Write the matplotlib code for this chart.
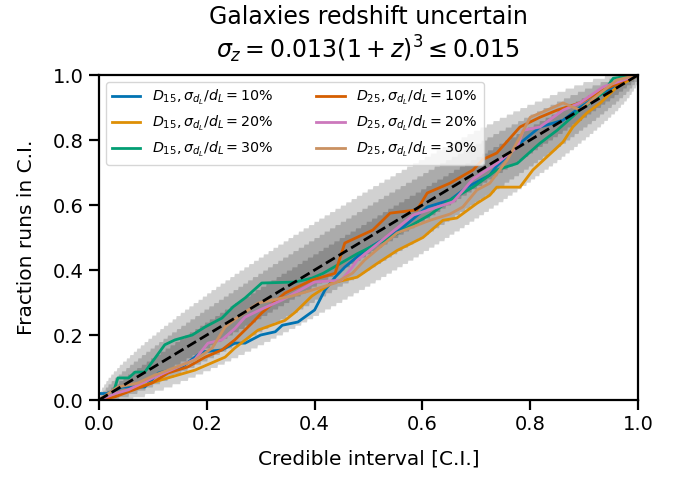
import math
import numpy as np
import matplotlib
matplotlib.use("Agg")
import matplotlib.pyplot as plt

# ---------------- data ----------------
n_runs = 100
conf_levels = [0.68, 0.95, 0.997]

labels = [r"$D_{15}, \sigma_{d_L}/d_L = 10\%$",
          r"$D_{15}, \sigma_{d_L}/d_L = 20\%$",
          r"$D_{15}, \sigma_{d_L}/d_L = 30\%$",
          r"$D_{25}, \sigma_{d_L}/d_L = 10\%$",
          r"$D_{25}, \sigma_{d_L}/d_L = 20\%$",
          r"$D_{25}, \sigma_{d_L}/d_L = 30\%$"]
colors = ["#0173B2", "#DE8F05", "#029E73", "#D55E00", "#CC78BC", "#CA9161"]

d15_10_x = [0, 0.015, 0.043, 0.085, 0.11, 0.154, 0.191, 0.228, 0.252, 0.271, 0.30, 0.327, 0.34, 0.369, 0.40, 0.419,
            0.438, 0.456, 0.493, 0.516, 0.558, 0.609, 0.651, 0.683, 0.725, 0.738, 0.781, 0.818, 0.861, 0.892, 0.935, 0.97, 1.0]
d15_10_y = [0.02, 0.02, 0.04, 0.04, 0.083, 0.102, 0.148, 0.154, 0.175, 0.175, 0.20, 0.21, 0.23, 0.24, 0.277, 0.338,
            0.378, 0.409, 0.46, 0.483, 0.523, 0.594, 0.615, 0.655, 0.692, 0.72, 0.79, 0.84, 0.861, 0.90, 0.945, 0.98, 1.0]

d15_20_x = [0, 0.01, 0.072, 0.128, 0.178, 0.234, 0.252, 0.295, 0.345, 0.364, 0.395, 0.432, 0.479, 0.516, 0.553, 0.601,
            0.638, 0.664, 0.701, 0.725, 0.738, 0.781, 0.805, 0.831, 0.861, 0.879, 0.905, 0.93, 0.961, 1.0]
d15_20_y = [0.0, 0.01, 0.04, 0.068, 0.092, 0.132, 0.16, 0.215, 0.245, 0.27, 0.32, 0.36, 0.378, 0.42, 0.46, 0.50,
            0.553, 0.56, 0.605, 0.63, 0.655, 0.655, 0.708, 0.748, 0.794, 0.84, 0.883, 0.914, 0.963, 1.0]

d15_30_x = [0, 0.026, 0.035, 0.055, 0.067, 0.085, 0.122, 0.141, 0.173, 0.197, 0.228, 0.249, 0.271, 0.302, 0.364, 0.395,
            0.416, 0.479, 0.54, 0.614, 0.651, 0.694, 0.738, 0.776, 0.818, 0.85, 0.892, 0.935, 0.954, 1.0]
d15_30_y = [0.0, 0.02, 0.068, 0.068, 0.086, 0.086, 0.17, 0.185, 0.20, 0.225, 0.252, 0.287, 0.314, 0.36, 0.363, 0.375,
            0.39, 0.45, 0.50, 0.57, 0.615, 0.655, 0.708, 0.728, 0.79, 0.83, 0.892, 0.945, 0.99, 1.0]

d25_10_x = [0, 0.03, 0.054, 0.098, 0.128, 0.165, 0.197, 0.228, 0.252, 0.284, 0.302, 0.345, 0.395, 0.438, 0.456, 0.508,
            0.54, 0.59, 0.609, 0.651, 0.694, 0.712, 0.738, 0.781, 0.818, 0.85, 0.892, 0.935, 1.0]
d25_10_y = [0.0, 0.01, 0.025, 0.052, 0.083, 0.102, 0.132, 0.154, 0.185, 0.237, 0.268, 0.329, 0.369, 0.39, 0.483, 0.523,
            0.575, 0.585, 0.637, 0.667, 0.708, 0.74, 0.76, 0.84, 0.87, 0.892, 0.914, 0.954, 1.0]

d25_20_x = [0, 0.03, 0.054, 0.104, 0.147, 0.178, 0.202, 0.228, 0.252, 0.271, 0.302, 0.34, 0.364, 0.40, 0.45, 0.47,
            0.479, 0.583, 0.657, 0.694, 0.738, 0.776, 0.787, 0.818, 0.861, 0.892, 0.935, 1.0]
d25_20_y = [0.0, 0.02, 0.031, 0.071, 0.102, 0.125, 0.175, 0.185, 0.22, 0.255, 0.28, 0.308, 0.33, 0.363, 0.369, 0.409,
            0.43, 0.569, 0.61, 0.68, 0.728, 0.778, 0.83, 0.84, 0.892, 0.914, 0.963, 1.0]

d25_30_x = [0, 0.035, 0.072, 0.104, 0.141, 0.178, 0.21, 0.234, 0.252, 0.295, 0.358, 0.395, 0.438, 0.47, 0.493, 0.553,
            0.614, 0.651, 0.675, 0.701, 0.725, 0.757, 0.781, 0.80, 0.831, 0.861, 0.892, 0.923, 0.961, 1.0]
d25_30_y = [0.0, 0.04, 0.052, 0.077, 0.10, 0.123, 0.16, 0.225, 0.248, 0.298, 0.32, 0.338, 0.36, 0.39, 0.431, 0.514,
            0.553, 0.572, 0.594, 0.646, 0.667, 0.738, 0.809, 0.87, 0.892, 0.914, 0.892, 0.935, 0.985, 1.0]

series_x = [d15_10_x, d15_20_x, d15_30_x, d25_10_x, d25_20_x, d25_30_x]
series_y = [d15_10_y, d15_20_y, d15_30_y, d25_10_y, d25_20_y, d25_30_y]


# ---------------- binomial confidence bands ----------------
def binom_ppf(q, n, p):
    k = np.arange(n + 1)
    logc = np.array([math.lgamma(n + 1) - math.lgamma(i + 1) - math.lgamma(n - i + 1) for i in k])
    out = np.zeros_like(p)
    for j, pp in enumerate(p):
        if pp <= 0:
            out[j] = 0
            continue
        if pp >= 1:
            out[j] = n
            continue
        logpmf = logc + k * np.log(pp) + (n - k) * np.log1p(-pp)
        cdf = np.cumsum(np.exp(logpmf))
        out[j] = np.searchsorted(cdf, q - 1e-12)
    return out


fig = plt.figure(figsize=(6.89, 4.79), dpi=100)
ax = fig.add_axes([0.1437, 0.1649, 0.7823, 0.6785])

xg = np.linspace(0, 1, 1001)
for ci in conf_levels:
    edge = (1 - ci) / 2
    hi = binom_ppf(1 - edge, n_runs, xg) / n_runs
    lo = binom_ppf(edge, n_runs, xg) / n_runs
    hi[0] = 0
    lo[0] = 0
    ax.fill_between(xg, lo, hi, alpha=0.18, facecolor="k", edgecolor="w", lw=0.6)

for xs, ys, lab, c in zip(series_x, series_y, labels, colors):
    ax.plot(xs, ys, color=c, lw=2, label=lab)

ax.plot([0, 1], [0, 1], "k--", lw=2)

ax.set_xlim(0, 1)
ax.set_ylim(0, 1)
ax.tick_params(labelsize=14, width=1.6, length=7, pad=4)
for s in ax.spines.values():
    s.set_linewidth(1.6)
ax.set_xlabel("Credible interval [C.I.]", fontsize=14.5, labelpad=11)
ax.set_ylabel("Fraction runs in C.I.", fontsize=14.5, labelpad=12)
ax.set_title("Galaxies redshift uncertain\n" + r"$\sigma_z = 0.013(1+z)^3 \leq 0.015$", fontsize=17, pad=12)
ax.legend(ncol=2, loc="upper left", fontsize=10.3, handlelength=2, columnspacing=3.0)

fig.savefig("out.png", dpi=100)
